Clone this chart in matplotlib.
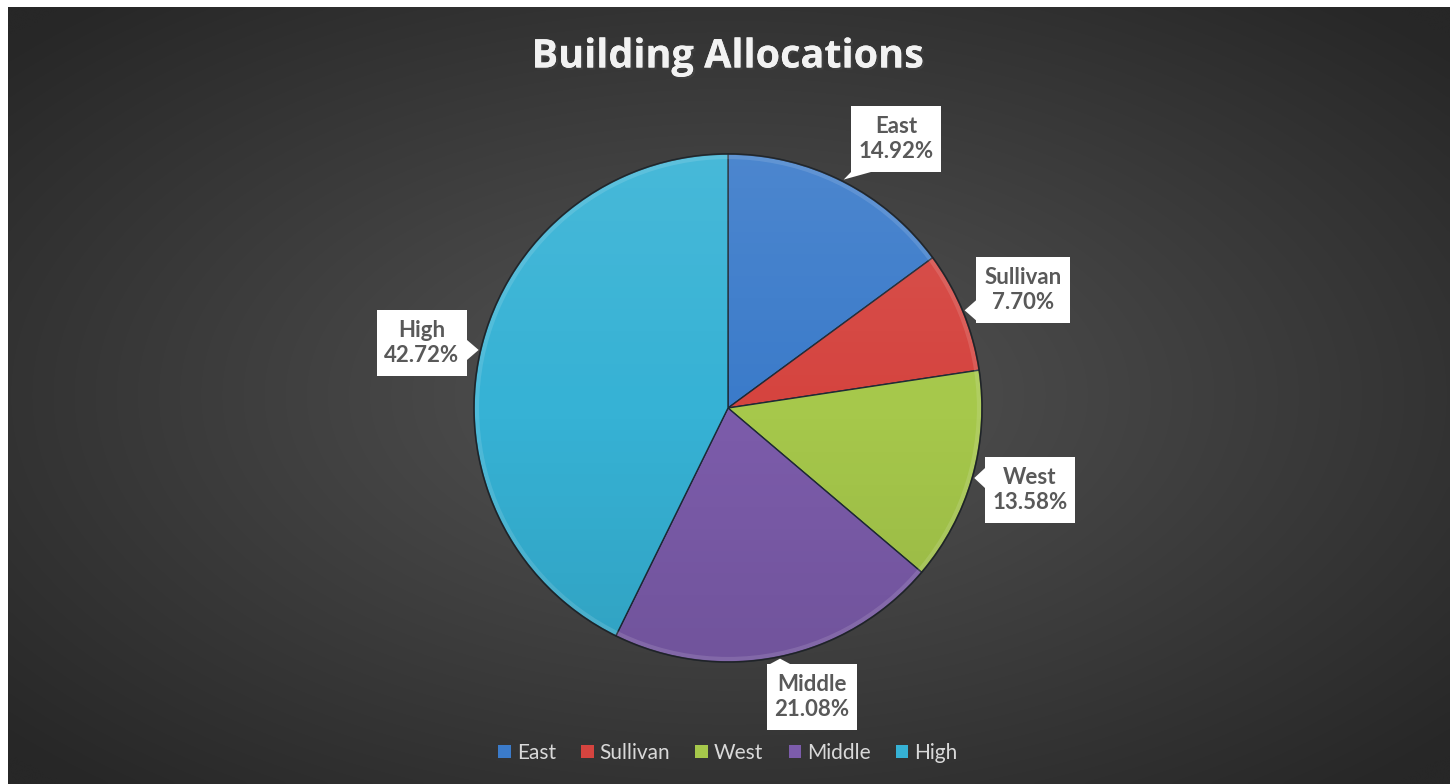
import numpy as np
import matplotlib
matplotlib.use("Agg")
import matplotlib.pyplot as plt
from matplotlib.patches import Polygon, Rectangle, Circle, Patch
import matplotlib.patheffects as pe

# Данные диаграммы
categories = ["East", "Sullivan", "West", "Middle", "High"]
shares = [14.92, 7.70, 13.58, 21.08, 42.72]
colors = ["#3b7bca", "#d5443f", "#a6c84b", "#7c5cab", "#36b2d5"]

# Центры подписей (в пикселях картинки, y сверху)
label_pos = [(896, 139), (1023, 290), (1030, 490), (812, 697), (422, 343)]
label_w = [90, 94, 90, 90, 90]

W, H = 1455, 784
fig = plt.figure(figsize=(W / 100, H / 100), dpi=100)
fig.patch.set_facecolor("white")
ax = fig.add_axes([0, 0, 1, 1])

# Фон: радиальный градиент
gx, gy = np.meshgrid(np.linspace(-1, 1, 400), np.linspace(-1, 1, 220))
d = np.clip(np.sqrt(gx ** 2 + gy ** 2) / 1.35, 0, 1)
c_in, c_out = np.array([0x55, 0x55, 0x55]) / 255, np.array([0x27, 0x27, 0x27]) / 255
bg = c_in[None, None, :] * (1 - d[..., None]) + c_out[None, None, :] * d[..., None]
ax.imshow(bg, extent=(8, 1450, 0, 777), aspect="auto", zorder=0, interpolation="bicubic")

# Круговая диаграмма
cx, cy, R = 728, H - 408, 254
wedges, _ = ax.pie(shares, colors=colors, startangle=90, counterclock=False,
                   center=(cx, cy), radius=R,
                   wedgeprops=dict(edgecolor="#1e2a36", linewidth=1.0, zorder=2))
for w in wedges:
    w.set_zorder(2)

# Лёгкое затенение сверху вниз
t = np.linspace(0, 1, 256)[:, None]
shade = np.zeros((256, 2, 4))
shade[..., :3] = np.where(t[..., None] < 0.5, 1.0, 0.0)
shade[..., 3] = np.abs(0.5 - t) * 0.18
im = ax.imshow(shade, extent=(cx - R, cx + R, cy - R, cy + R), aspect="auto", zorder=3)
im.set_clip_path(Circle((cx, cy), R, transform=ax.transData))
ax.add_patch(Circle((cx, cy), R - 3, fill=False, ec="white", lw=3, alpha=0.12, zorder=4))
ax.add_patch(Circle((cx, cy), R, fill=False, ec="#202020", lw=1.2, alpha=0.6, zorder=4))

ax.set_xlim(0, W)
ax.set_ylim(0, H)
ax.set_aspect("equal")
ax.axis("off")

# Подписи-выноски
for w, name, val, (lx, ly), bw in zip(wedges, categories, shares, label_pos, label_w):
    mid = np.deg2rad((w.theta1 + w.theta2) / 2)
    tx, ty = cx + (R + 2) * np.cos(mid), cy + (R + 2) * np.sin(mid)
    ly = H - ly
    x0, x1, y0, y1 = lx - bw / 2, lx + bw / 2, ly - 33, ly + 33
    ax.add_patch(Rectangle((x0, y0), x1 - x0, y1 - y0, fc="white", ec="none", zorder=5))
    dl, dr, db, dt = x0 - tx, tx - x1, y0 - ty, ty - y1
    side = np.argmax([dl, dr, db, dt])
    hw = 10
    if side == 0:
        b = np.clip(ty, y0 + hw, y1 - hw)
        base = [(x0, b - hw), (x0, b + hw)]
    elif side == 1:
        b = np.clip(ty, y0 + hw, y1 - hw)
        base = [(x1, b - hw), (x1, b + hw)]
    elif side == 2:
        b = np.clip(tx, x0 + hw, x1 - hw)
        base = [(b - hw, y0), (b + hw, y0)]
    else:
        b = np.clip(tx, x0 + hw, x1 - hw)
        base = [(b - hw, y1), (b + hw, y1)]
    ax.add_patch(Polygon([base[0], (tx, ty), base[1]], closed=True, fc="white", ec="none", zorder=5))
    ax.text(lx, ly, f"{name}\n{val:.2f}%", ha="center", va="center", fontsize=16,
            fontweight="bold", family="Lato", color="#595959", linespacing=1.2, zorder=6)

# Заголовок
ax.text(cx, H - 57, "Building Allocations", ha="center", va="center", fontsize=28.5,
        fontweight="bold", family="Open Sans", color="#f2f2f2", zorder=6,
        path_effects=[pe.withSimplePatchShadow(offset=(1.5, -1.5), alpha=0.5), pe.Normal()])

# Легенда
handles = [Patch(facecolor=c, edgecolor="none") for c in colors]
leg = fig.legend(handles, categories, loc="center", bbox_to_anchor=(cx / W, (H - 753) / H),
                 ncol=5, frameon=False, handlelength=0.6, handleheight=0.6,
                 handletextpad=0.3, columnspacing=1.2,
                 prop={"family": "Lato", "size": 15})
for txt in leg.get_texts():
    txt.set_color("#d9d9d9")

fig.savefig("out.png", dpi=100, facecolor=fig.get_facecolor())
